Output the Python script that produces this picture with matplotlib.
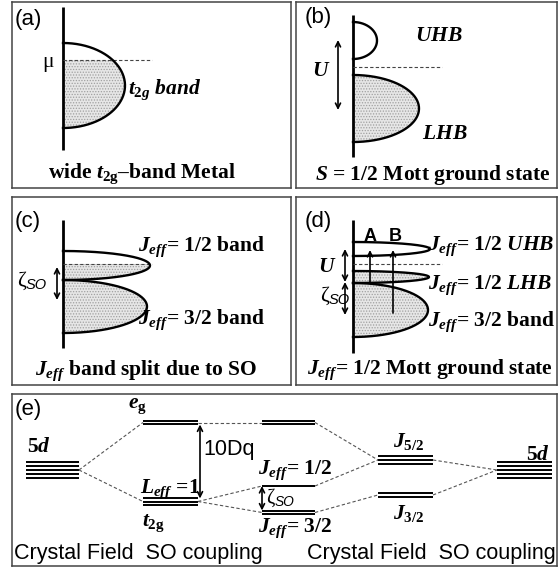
import numpy as np
import matplotlib.pyplot as plt

plt.rcParams['mathtext.fontset'] = 'custom'
plt.rcParams['mathtext.rm'] = 'Liberation Serif:bold'
plt.rcParams['mathtext.it'] = 'Liberation Serif:italic:bold'
plt.rcParams['mathtext.bf'] = 'Liberation Serif:bold'
plt.rcParams['hatch.linewidth'] = 0.6

W, H = 559, 574

# bands: centre energy, half width, peak DOS (energy measured from mu)
a_center, a_half, a_peak = [-25.5], [42.5], [62]
b_center, b_half, b_peak = [26.5, -41.5], [18.5, 33.5], [24, 66]
c_center, c_half, c_peak = [-1.5, -42.5], [14.5, 26.5], [87, 84]
d_center, d_half, d_peak = [15, -13, -46], [7, 6, 27], [77, 76, 75]

# atomic levels of panel (e): energy, number of drawn lines, column
level_energy = [0, 47.5, -31.5, 47.5, -16, -42.5, 10, -25, 0]
level_lines = [5, 2, 3, 2, 1, 2, 3, 2, 5]
level_col = [0, 1, 1, 2, 2, 2, 3, 3, 4]
links = [(0, 1), (0, 2), (1, 3), (2, 4), (2, 5), (3, 6), (4, 6), (5, 7), (6, 8), (7, 8)]
col_x = [(14, 67), (131, 186), (250, 303), (366, 421), (485, 540)]

SERIF = 'Liberation Serif'
SANS = 'Liberation Sans'
FS = 15.5
FILL = dict(facecolor='#e6e6e6', hatch='......', edgecolor='#a0a0a0', linewidth=0, zorder=0)

fig = plt.figure(figsize=(W / 100, H / 100), dpi=100)


def panel(box, origin):
    left, top, right, bottom = box
    ox, oy = origin
    ax = fig.add_axes([left / W, 1 - bottom / H, (right - left) / W, (bottom - top) / H])
    ax.set_xlim(left - ox, right - ox)
    ax.set_ylim(oy - bottom, oy - top)
    ax.set_xticks([])
    ax.set_yticks([])
    for s in ax.spines.values():
        s.set_linewidth(1.1)
        s.set_color('#444444')
    return ax


def band(ax, c, h, w):
    t = np.linspace(0, np.pi, 300)
    ax.plot(w * np.sin(t), c + h * np.cos(t), color='k', lw=1.7)
    if c - h < 0:
        yy = np.linspace(c - h, min(c + h, 0), 200)
        xx = w * np.sqrt(np.clip(1 - ((yy - c) / h) ** 2, 0, None))
        ax.fill_betweenx(yy, 0, xx, **FILL)


def dos_axis(ax, y0, y1):
    ax.plot([0, 0], [y0, y1], color='k', lw=2.0, solid_capstyle='butt')
    ax.plot([0, 89], [0, 0], color='#444444', lw=0.8, ls=(0, (3, 2)))


def arrow(ax, x, y0, y1, style='<->'):
    ax.annotate('', xy=(x, y1), xytext=(x, y0),
                arrowprops=dict(arrowstyle=style, lw=1.2, color='k',
                                mutation_scale=9, shrinkA=0, shrinkB=0))


def serif(ax, x, y, s, ha='left', style='normal', size=FS):
    ax.text(x, y, s, ha=ha, va='center', family=SERIF, weight='bold',
            style=style, fontsize=size)


def sans(ax, x, y, s, ha='left', size=FS, weight='normal'):
    ax.text(x, y, s, ha=ha, va='center', family=SANS, fontsize=size, weight=weight)


def zeta(ax, x, y, size=FS):
    # plain zeta with a small italic "SO" subscript
    ax.text(x, y, 'ζ', ha='left', va='center', family=SERIF, fontsize=size)
    ax.text(x + 9, y - 4, 'SO', ha='left', va='center', family=SANS,
            style='italic', fontsize=size * 0.68)


# (a) metal
ax = panel((12, 1.5, 291, 188), (63, 60))
dos_axis(ax, 53, -90)
for c, h, w in zip(a_center, a_half, a_peak):
    band(ax, c, h, w)
sans(ax, -48, 40, '(a)', size=16)
ax.text(-15, -2, 'μ', ha='center', va='center', family=SERIF, fontsize=FS)
serif(ax, 65, -30, r'$t_{2g}$ band', style='italic')
serif(ax, 79, -114, r'wide $t_{\mathrm{2g}}$–band Metal', ha='center')

# (b) S = 1/2 Mott insulator
ax = panel((296, 1.5, 557, 188), (353, 67))
dos_axis(ax, 52, -90)
for c, h, w in zip(b_center, b_half, b_peak):
    band(ax, c, h, w)
arrow(ax, -15, -43, 27)
sans(ax, -48, 49, '(b)', size=16)
serif(ax, 62, 31, r'$UHB$')
serif(ax, 69, -67, r'$LHB$')
serif(ax, -32, -4, r'$U$', ha='center')
serif(ax, 80, -108, r'$S$ = 1/2 Mott ground state', ha='center')

# (c) spin-orbit split bands
ax = panel((12, 197, 291, 385), (63, 264))
dos_axis(ax, 44, -84)
for c, h, w in zip(c_center, c_half, c_peak):
    band(ax, c, h, w)
arrow(ax, -6, -36, -3)
sans(ax, -48, 43, '(c)', size=16)
serif(ax, 75, 17, r'$J_{eff}$= 1/2 band')
serif(ax, 75, -56, r'$J_{eff}$= 3/2 band')
zeta(ax, -46, -17)
serif(ax, 83, -107, r'$J_{eff}$ band split due to SO', ha='center')

# (d) Jeff = 1/2 Mott insulator
ax = panel((296, 197, 557, 385), (353, 264))
dos_axis(ax, 44, -89)
for c, h, w in zip(d_center, d_half, d_peak):
    band(ax, c, h, w)
arrow(ax, -8, -18, 15)
arrow(ax, -8, -51, -18)
arrow(ax, 17, -18, 14, '->')
arrow(ax, 40, -49, 14, '->')
sans(ax, -48, 43, '(d)', size=16)
sans(ax, 17, 28, 'A', ha='center', size=13, weight='bold')
sans(ax, 42, 28, 'B', ha='center', size=13, weight='bold')
serif(ax, 75, 18, r'$J_{eff}$= 1/2 $UHB$')
serif(ax, 75, -21, r'$J_{eff}$= 1/2 $LHB$')
serif(ax, 75, -58, r'$J_{eff}$= 3/2 band')
serif(ax, -26, -3, r'$U$', ha='center')
zeta(ax, -33, -32)
serif(ax, 77, -106, r'$J_{eff}$= 1/2 Mott ground state', ha='center')

# (e) level scheme
ax = panel((12, 394, 557, 566), (12, 470))
sp = 3.8
for e, n, col in zip(level_energy, level_lines, level_col):
    x0, x1 = col_x[col]
    for i in range(n):
        y = e + (i - (n - 1) / 2) * sp
        ax.plot([x0, x1], [y, y], color='k', lw=1.4, solid_capstyle='butt')
for i, j in links:
    ax.plot([col_x[level_col[i]][1], col_x[level_col[j]][0]],
            [level_energy[i], level_energy[j]],
            color='#555555', lw=0.8, ls=(0, (3, 2)))
arrow(ax, 188, level_energy[2] + 3, level_energy[1] - 2)
arrow(ax, 250, level_energy[5] + 2, level_energy[4])
sans(ax, 3, 60, '(e)', size=16)
serif(ax, 15, 23, r'5$d$')
serif(ax, 116, 64, r'$e_{\mathrm{g}}$')
serif(ax, 128, -19, r'$L_{eff}$ =1')
serif(ax, 130, -53, r'$t_{\mathrm{2g}}$')
sans(ax, 191, 20, '10Dq')
serif(ax, 246, 0, r'$J_{eff}$= 1/2')
serif(ax, 246, -58, r'$J_{eff}$= 3/2')
zeta(ax, 254, -28, size=FS - 1)
serif(ax, 381, 28, r'$J_{5/2}$')
serif(ax, 381, -43, r'$J_{3/2}$')
serif(ax, 538, 15, r'5$d$', ha='right')
sans(ax, 126, -84, 'Crystal Field  SO coupling', ha='center')
sans(ax, 419, -84, 'Crystal Field  SO coupling', ha='center')

fig.savefig('out.png', dpi=100)
